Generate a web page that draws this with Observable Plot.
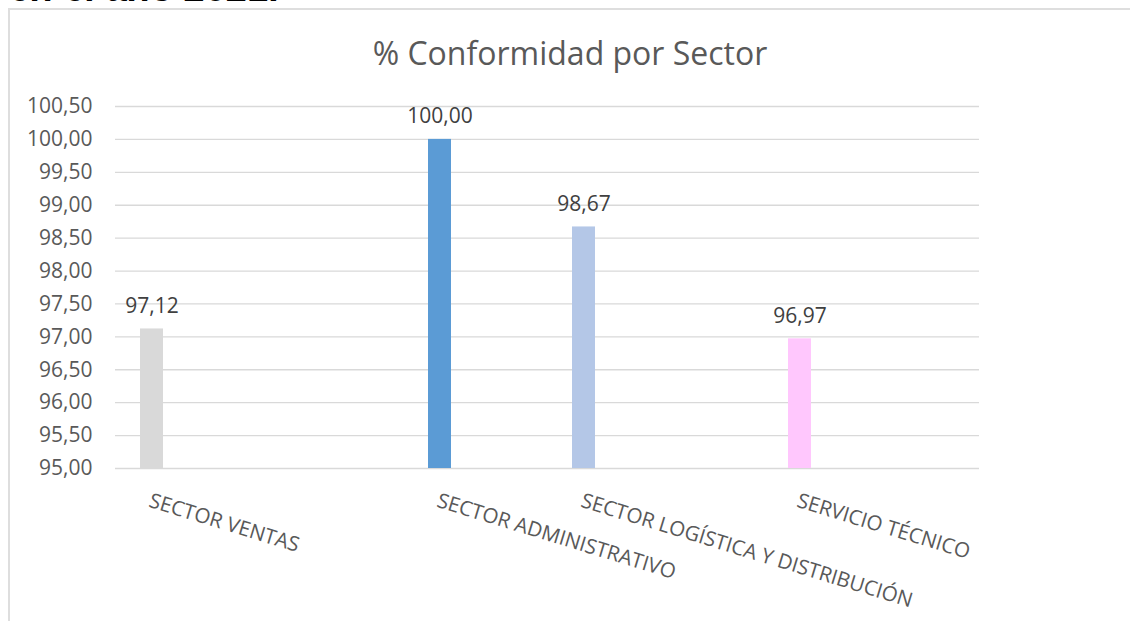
<!DOCTYPE html>
<html>
<head>
<meta charset="utf-8">
<script src="https://cdn.jsdelivr.net/npm/d3@7"></script>
<script src="https://cdn.jsdelivr.net/npm/@observablehq/plot@0.6"></script>
<style>
  html, body { margin: 0; padding: 0; background: #fff; }
  #page { position: relative; width: 1130px; height: 621px; overflow: hidden; background: #fff; }
  #heading { position: absolute; left: 10px; top: -31px; font: italic bold 38px "Liberation Sans", Arial, sans-serif; line-height: 38px; color: #000; white-space: nowrap; }
  #frame { position: absolute; left: 8px; top: 8px; width: 1140px; height: 640px; border-left: 2px solid #dedede; border-top: 2px solid #dedede; box-sizing: border-box; }
  #title { position: absolute; left: 0; width: 1140px; top: 37px; text-align: center; font: 32px "Open Sans", sans-serif; line-height: 32px; color: #595959; white-space: nowrap; }
  #chart { position: absolute; left: 0; top: 80px; }
</style>
</head>
<body>
<div id="page">
  <div id="heading">en el año 2021.</div>
  <div id="frame"></div>
  <div id="title">% Conformidad por Sector</div>
  <div id="chart"></div>
</div>
<script>
// Category slots along the x axis (blank slots hold no bar)
const categories = ["SECTOR VENTAS", "", "", "", "SECTOR ADMINISTRATIVO", "", "SECTOR LOGÍSTICA Y DISTRIBUCIÓN", "", "", "SERVICIO TÉCNICO", "", ""];
const values = [97.12, null, null, null, 100.00, null, 98.67, null, null, 96.97, null, null];
const colors = ["#d9d9d9", null, null, null, "#5b9bd5", null, "#b4c7e7", null, null, "#ffc7fd", null, null];
const yTicks = [95.00, 95.50, 96.00, 96.50, 97.00, 97.50, 98.00, 98.50, 99.00, 99.50, 100.00, 100.50];

const fmt = v => d3.format(".2f")(v).replace(".", ",");
const slots = categories.map((_, i) => i);
const rows = categories.map((cat, i) => ({idx: i, cat, value: values[i], color: colors[i]}))
  .filter(d => d.value != null);

const chart = Plot.plot({
  width: 1130,
  height: 541,
  marginLeft: 115,
  marginRight: 151,
  marginTop: 26,
  marginBottom: 153,
  style: {fontFamily: "'Open Sans', sans-serif", fontSize: "20px", color: "#595959", background: "transparent", overflow: "visible"},
  x: {type: "band", domain: slots, paddingInner: 0.685, paddingOuter: 0.3425, axis: null},
  y: {domain: [yTicks[0], yTicks[yTicks.length - 1]], axis: null},
  color: {type: "identity"},
  marks: [
    Plot.gridY(yTicks, {stroke: "#d9d9d9", strokeOpacity: 1, strokeWidth: 1.3}),
    Plot.axisY(yTicks, {tickFormat: fmt, tickSize: 0, tickPadding: 23, fontSize: 21, fill: "#595959", label: null}),
    Plot.barY(rows, {x: "idx", y1: yTicks[0], y2: "value", fill: "color"}),
    Plot.text(rows, {x: "idx", y: "value", text: d => fmt(d.value), lineAnchor: "bottom", dy: -16, fontSize: 21, fill: "#404040"}),
    Plot.text(rows, {x: "idx", text: "cat", frameAnchor: "bottom", textAnchor: "start", lineAnchor: "top", rotate: 17, dy: 24, fontSize: 20.6, fill: "#595959"})
  ]
});
document.getElementById("chart").appendChild(chart);
</script>
</body>
</html>
